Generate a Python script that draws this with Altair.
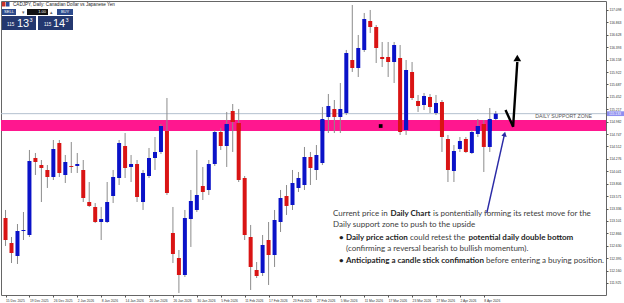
import json
import altair as alt
import pandas as pd

# ---------------- CADJPY daily bars (bar 0 = 15 Dec 2025) ----------------
opens = [113.156, 112.682, 112.436, 112.910, 112.834, 114.293, 114.160, 114.066, 113.933, 114.577,
         113.971, 114.142, 114.142, 114.066, 113.459, 113.365, 113.080, 113.080, 113.573, 113.914,
         114.520, 114.123, 114.179, 113.459, 113.952, 114.293, 114.407, 114.805, 112.872, 112.398,
         112.076, 113.137, 113.308, 113.762, 113.687, 114.179, 114.786, 114.520, 115.184, 114.956,
         113.914, 112.796, 112.171, 112.114, 112.739, 112.455, 113.080, 113.573, 113.402, 113.725,
         113.781, 114.312, 114.066, 114.198, 115.070, 115.222, 115.070, 115.146, 116.150, 115.998,
         116.340, 116.889, 116.775, 116.207, 116.207, 116.112, 116.188, 114.824, 115.923, 115.373,
         115.297, 115.449, 115.146, 115.354, 114.653, 114.047, 114.464, 114.653, 114.388, 114.748,
         114.937, 114.502, 115.032]
highs = [113.308, 112.796, 113.042, 113.270, 114.445, 114.388, 114.255, 114.160, 114.634, 114.634,
         114.350, 114.596, 114.388, 114.255, 113.838, 113.440, 113.365, 113.838, 114.066, 114.634,
         114.767, 114.350, 114.255, 114.066, 114.483, 114.691, 114.937, 115.430, 113.365, 112.550,
         113.308, 113.687, 114.445, 114.123, 114.255, 114.824, 114.862, 115.165, 115.316, 115.222,
         113.952, 113.024, 112.322, 112.834, 113.080, 113.308, 113.687, 113.781, 114.066, 114.028,
         114.502, 114.407, 114.539, 115.260, 115.506, 115.392, 115.714, 116.340, 117.192, 116.624,
         117.041, 117.098, 116.813, 116.491, 116.491, 116.491, 116.434, 116.150, 116.112, 115.487,
         115.525, 115.506, 115.487, 115.392, 114.729, 114.539, 114.691, 114.691, 114.824, 115.032,
         115.013, 115.241, 115.184]
lows = [112.626, 112.303, 112.285, 112.739, 112.796, 113.971, 113.459, 113.725, 113.876, 113.933,
        113.819, 114.009, 114.009, 113.459, 113.365, 113.061, 112.739, 113.061, 113.440, 113.781,
        113.914, 113.838, 113.459, 113.308, 113.914, 114.066, 114.369, 113.592, 112.303, 111.735,
        112.038, 112.607, 113.270, 113.497, 113.592, 114.142, 114.445, 114.123, 114.407, 113.838,
        112.739, 111.792, 112.019, 112.057, 111.887, 112.228, 112.891, 113.213, 113.308, 113.649,
        113.687, 113.781, 113.876, 114.160, 114.767, 114.767, 114.767, 115.108, 115.923, 115.828,
        116.302, 116.662, 116.093, 116.017, 115.828, 115.714, 114.729, 114.729, 115.392, 115.165,
        115.203, 115.146, 115.108, 114.407, 113.838, 113.838, 114.407, 114.388, 114.369, 114.691,
        114.028, 114.407, 115.013]
closes = [112.739, 112.493, 112.910, 112.929, 114.236, 114.217, 114.104, 113.933, 114.464, 114.009,
          114.217, 114.123, 114.179, 113.535, 113.384, 113.080, 113.137, 113.459, 113.933, 114.577,
          114.104, 114.179, 113.554, 114.009, 114.293, 114.407, 114.899, 113.630, 112.474, 112.076,
          113.156, 113.478, 113.592, 113.649, 114.179, 114.786, 114.520, 114.937, 114.975, 113.876,
          112.834, 112.228, 112.057, 112.645, 112.455, 113.118, 113.535, 113.384, 113.819, 113.914,
          114.312, 114.104, 114.350, 115.032, 115.278, 115.070, 115.222, 116.283, 115.998, 116.377,
          116.927, 116.775, 116.377, 116.169, 116.112, 116.434, 114.786, 115.961, 115.430, 115.278,
          115.468, 115.260, 115.335, 114.691, 114.066, 114.426, 114.615, 114.407, 114.786, 114.899,
          114.502, 115.032, 115.133]

# time-axis labels, one every 4 bars
date_labels = ["15 Dec 2025", "19 Dec 2025", "26 Dec 2025", "2 Jan 2026", "8 Jan 2026",
               "14 Jan 2026", "20 Jan 2026", "26 Jan 2026", "30 Jan 2026", "5 Feb 2026",
               "11 Feb 2026", "17 Feb 2026", "23 Feb 2026", "27 Feb 2026", "5 Mar 2026",
               "11 Mar 2026", "17 Mar 2026", "23 Mar 2026", "27 Mar 2026", "2 Apr 2026",
               "8 Apr 2026"]
label_every = 4

price_ticks = [111.925, 112.160, 112.395, 112.630, 112.866, 113.101, 113.336, 113.571,
               113.806, 114.041, 114.276, 114.512, 114.747, 114.982, 115.217, 115.452,
               115.687, 115.922, 116.158, 116.393, 116.628, 116.863, 117.098]

bid_price = 115.133
zone_low = 114.805
zone_high = 115.013

# projected path after the retest (bar index / price)
check_idx = [83.63, 84.90, 85.60]
check_px = [115.203, 114.886, 116.112]
check_head = (85.60, 116.188)

# pointer from the note up to the zone
pointer_idx = [80.5, 83.47]
pointer_px = [113.251, 114.748]

marker_idx = [62.75]
marker_px = [114.899]

# ---------------- frames ----------------
bars = pd.DataFrame({"i": list(range(len(opens))), "open": opens, "high": highs,
                     "low": lows, "close": closes})
bars["dir"] = ["up" if c >= o else "down" for o, c in zip(opens, closes)]
bars["lo"] = bars[["open", "close"]].min(axis=1)
bars["hi"] = bars[["open", "close"]].max(axis=1)

inside = bars.copy()
inside["lo"] = inside["lo"].clip(lower=zone_low)
inside["hi"] = inside["hi"].clip(upper=zone_high)
inside = inside[inside["hi"] > inside["lo"]]

W, H = 605, 294
AXIS_FONT = "Liberation Sans"
NOTE_FONT = "Lato"

x_scale = alt.Scale(domain=[0.08, 99.6], nice=False, zero=False)
y_scale = alt.Scale(domain=[111.697, 117.268], nice=False, zero=False)

label_js = json.dumps(date_labels)
x_axis = alt.Axis(values=[k * label_every for k in range(len(date_labels))],
                  labelExpr=f"{label_js}[round(datum.value / {label_every})]",
                  labelAlign="left", labelFontSize=3.3, labelPadding=1.5, labelFont=AXIS_FONT,
                  labelColor="#333333", tickSize=2, tickColor="#555555", domain=False,
                  grid=False, title=None, labelOverlap=False, labelFlush=False, labelBound=False)
y_axis = alt.Axis(orient="right", values=price_ticks, format=".3f", labelFontSize=3.4,
                  labelPadding=1, labelFont=AXIS_FONT, labelColor="#333333", tickSize=2,
                  tickColor="#555555", domain=False, grid=False, title=None,
                  labelOverlap=False, labelFlush=False, labelBound=False)


def X(field):
    return alt.X(field, type="quantitative", scale=x_scale, axis=x_axis)


def Y(field):
    return alt.Y(field, type="quantitative", scale=y_scale, axis=y_axis)


one = pd.DataFrame({"k": [0]})

layers = []

# support zone and bid line
zone_df = pd.DataFrame({"lo": [zone_low], "hi": [zone_high]})
layers.append(alt.Chart(zone_df).mark_rect(color="#ff178f").encode(
    x=alt.value(0), x2=alt.value(W), y=Y("lo"), y2="hi"))
bid_df = pd.DataFrame({"p": [bid_price]})
layers.append(alt.Chart(bid_df).mark_rule(color="#b3c0cf", strokeWidth=1).encode(
    x=alt.value(0), x2=alt.value(W), y=Y("p")))

# candles
base = alt.Chart(bars)
layers.append(base.mark_rule(color="#8c8c8c", strokeWidth=1).encode(
    x=X("i"), y=Y("low"), y2="high"))
layers.append(base.mark_bar(size=4).encode(
    x=X("i"), y=Y("lo"), y2="hi",
    color=alt.Color("dir:N", scale=alt.Scale(domain=["up", "down"], range=["#0a12c8", "#d91414"]),
                    legend=None)))
layers.append(alt.Chart(inside).mark_bar(size=4).encode(
    x=X("i"), y=Y("lo"), y2="hi",
    color=alt.Color("dir:N", scale=alt.Scale(domain=["up", "down"], range=["#3fd19e", "#f6da8c"]),
                    legend=None)))

# zone caption
cap_df = pd.DataFrame({"i": [98.1], "p": [115.098], "t": ["DAILY SUPPORT ZONE"]})
layers.append(alt.Chart(cap_df).mark_text(align="right", baseline="middle", fontSize=5.2,
                                          font=AXIS_FONT, color="#555555").encode(
    x=X("i"), y=Y("p"), text="t:N"))

# black marker inside the zone
mk_df = pd.DataFrame({"i": marker_idx, "p": marker_px})
layers.append(alt.Chart(mk_df).mark_square(size=14, color="black", opacity=1).encode(
    x=X("i"), y=Y("p")))

# projected bounce
chk_df = pd.DataFrame({"i": check_idx, "p": check_px, "s": [0, 1, 2]})
layers.append(alt.Chart(chk_df).mark_line(color="black", strokeWidth=2.4).encode(
    x=X("i"), y=Y("p"), order="s:Q"))
head_df = pd.DataFrame({"i": [check_head[0]], "p": [check_head[1]]})
layers.append(alt.Chart(head_df).mark_point(shape="triangle-up", filled=True, size=60,
                                            color="black", opacity=1).encode(
    x=X("i"), y=Y("p")))

# pointer arrow
ptr_df = pd.DataFrame({"i": pointer_idx, "p": pointer_px, "s": [0, 1]})
layers.append(alt.Chart(ptr_df).mark_line(color="#2a2aa6", strokeWidth=1.4).encode(
    x=X("i"), y=Y("p"), order="s:Q"))
ptr_head = pd.DataFrame({"i": [pointer_idx[-1]], "p": [pointer_px[-1]]})
layers.append(alt.Chart(ptr_head).mark_point(shape="triangle-up", filled=True, size=30, angle=13,
                                             color="#2a2aa6", opacity=1).encode(
    x=X("i"), y=Y("p")))

# current bid tag on the price scale
tag = alt.Chart(bid_df).transform_calculate(top="datum.p + 0.045", bot="datum.p - 0.045")
layers.append(tag.mark_rect(color="#8f8ff0").encode(
    x=alt.value(W + 1), x2=alt.value(W + 18), y=alt.Y("top:Q", scale=y_scale, axis=y_axis), y2="bot:Q"))
layers.append(alt.Chart(bid_df).mark_text(align="left", baseline="middle", fontSize=3.4,
                                          font=AXIS_FONT, color="white").encode(
    x=alt.value(W + 3), y=Y("p"), text=alt.Text("p:Q", format=".3f")))


# ---------------- trade panel (top left) ----------------
def box(x0, y0, x1, y1, color):
    return alt.Chart(one).mark_rect(color=color).encode(
        x=alt.value(x0), x2=alt.value(x1), y=alt.value(y0), y2=alt.value(y1))


def word(text, x, y, size, color, weight="normal", align="left", font=AXIS_FONT):
    return alt.Chart(one).mark_text(text=text, align=align, baseline="middle", fontSize=size,
                                    fontWeight=weight, color=color, font=font).encode(
        x=alt.value(x), y=alt.value(y))


layers += [
    box(1, 1, 4.5, 5.5, "#c8302a"), box(5, 1, 8.5, 5.5, "#2b4b9a"),
    word("CADJPY, Daily: Canadian Dollar vs Japanese Yen", 12, 3.5, 4.6, "#222222"),
    box(1, 8, 15, 14, "#2c4a8c"), word("SELL", 8, 11, 4, "white", align="center"),
    word("▾", 22, 11, 5, "#666666", align="center"),
    box(26, 8, 47, 14, "#111111"), word("1.00", 45, 11, 4, "white", align="right"),
    word("▴", 50, 11, 5, "#666666", align="center"),
    box(56, 8, 72, 14, "#2c4a8c"), word("BUY", 64, 11, 4, "white", align="center"),
    box(1, 15, 35, 29, "#24386f"), box(37, 15, 72, 29, "#24386f"),
    word("115", 6, 24, 4.5, "white"), word("13", 16, 22.5, 11, "white"),
    word("3", 28.5, 18.5, 5.5, "white"),
    word("115", 43, 24, 4.5, "white"), word("14", 52, 22.5, 11, "white"),
    word("3", 64.5, 18.5, 5.5, "white"),
]

# ---------------- commentary ----------------
NOTE = "#3c3c3c"
note_bits = [
    ("Current price in", 332, 213, "normal"),
    ("Daily Chart", 389.5, 213, "bold"),
    ("is pontentially forming its retest move for the", 432, 213, "normal"),
    ("Daily support zone to push to the upside", 332, 224, "normal"),
    ("•", 338, 237, "bold"),
    ("Daily price action", 345, 237, "bold"),
    ("could retest the", 409, 237, "normal"),
    ("potential daily double bottom", 467.5, 237, "bold"),
    ("(confirming a reversal bearish to bullish momentum).", 345, 248, "normal"),
    ("•", 338, 260, "bold"),
    ("Anticipating a candle stick confimation", 345, 260, "bold"),
    ("before entering a buying position.", 485, 260, "normal"),
]
for text, x, y, wt in note_bits:
    layers.append(word(text, x, y, 8.0, "#1e1e1e" if wt == "bold" else NOTE, weight=wt,
                       font=NOTE_FONT))

chart = alt.layer(*layers).properties(
    width=W, height=H, autosize="none",
    padding={"left": 1, "top": 1, "right": 18, "bottom": 8},
    background="white",
).configure_view(stroke="#666666", strokeWidth=1)

chart.save("out.html", embed_options={"renderer": "svg", "actions": False})
